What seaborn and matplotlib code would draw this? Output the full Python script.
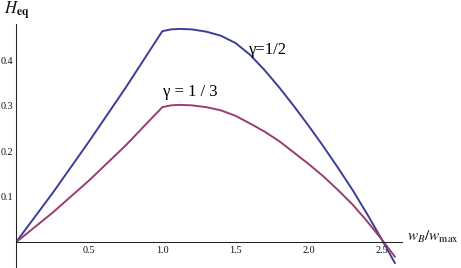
import matplotlib
matplotlib.use("Agg")
import matplotlib.pyplot as plt
from matplotlib.ticker import FixedLocator, MultipleLocator, FixedFormatter
import seaborn as sns
import pandas as pd

# ---- data ----
w_ratio = [0, 0.25, 0.5, 0.75, 1.0, 1.06, 1.12, 1.2, 1.3, 1.4, 1.5, 1.6, 1.7,
           1.8, 1.9, 2.0, 2.1, 2.2, 2.3, 2.4, 2.5, 2.59]
h_gamma_half = [0, 0.108, 0.222, 0.340, 0.464, 0.468, 0.469, 0.468, 0.463, 0.454,
                0.438, 0.412, 0.378, 0.340, 0.299, 0.256, 0.211, 0.164, 0.115,
                0.062, 0.006, -0.046]
h_gamma_third = [0, 0.065, 0.136, 0.213, 0.297, 0.301, 0.302, 0.301, 0.297, 0.290,
                 0.278, 0.261, 0.243, 0.222, 0.197, 0.172, 0.145, 0.115, 0.083,
                 0.046, 0.006, -0.032]
series_names = ["γ=1/2", "γ = 1 / 3"]
x_ticks = [0.5, 1.0, 1.5, 2.0, 2.5]
x_tick_labels = ["0.5", "1.0", "1.5", "2.0", "2.5"]
y_ticks = [0.1, 0.2, 0.3, 0.4]
y_tick_labels = ["0.1", "0.2", "0.3", "0.4"]

colors = ["#3D3D99", "#993D71"]

df = pd.concat([
    pd.DataFrame({"x": w_ratio, "H": h_gamma_half, "gamma": series_names[0]}),
    pd.DataFrame({"x": w_ratio, "H": h_gamma_third, "gamma": series_names[1]}),
], ignore_index=True)

sns.set_style("white")
plt.rcParams["font.family"] = ["Liberation Serif", "DejaVu Serif"]
plt.rcParams["mathtext.fontset"] = "stix"

W, H = 461, 268
fig = plt.figure(figsize=(W / 100, H / 100), dpi=100)
ax_left, ax_right, ax_top = 16, 401.7, 23.9
ax = fig.add_axes([ax_left / W, 0, (ax_right - ax_left) / W, (H - ax_top) / H])

sns.lineplot(data=df, x="x", y="H", hue="gamma", palette=colors, sort=False,
             estimator=None, legend=False, lw=1.4, ax=ax)

ax.set_xlim(0, 2.636)
ax.set_ylim(-0.0566, 0.48)
ax.set_xlabel("")
ax.set_ylabel("")

for s in ["top", "right"]:
    ax.spines[s].set_visible(False)
ax.spines["bottom"].set_position(("data", 0))
ax.spines["left"].set_position(("data", 0))
for s in ["bottom", "left"]:
    ax.spines[s].set_linewidth(0.75)
    ax.spines[s].set_color("#222222")

ax.xaxis.set_major_locator(FixedLocator(x_ticks))
ax.xaxis.set_major_formatter(FixedFormatter(x_tick_labels))
ax.xaxis.set_minor_locator(MultipleLocator(0.1))
ax.yaxis.set_major_locator(FixedLocator(y_ticks))
ax.yaxis.set_major_formatter(FixedFormatter(y_tick_labels))
ax.yaxis.set_minor_locator(MultipleLocator(0.02))

ax.tick_params(axis="both", which="major", direction="in", length=3.2, width=0.7,
               color="#222222", labelsize=7.3, labelcolor="#111111")
ax.tick_params(axis="both", which="minor", direction="in", length=1.7, width=0.6,
               color="#222222")
ax.tick_params(axis="x", which="major", pad=2.5)
ax.tick_params(axis="y", which="major", pad=2.2)

# axis labels, Mathematica style
fig.text(4 / W, 1 - 15 / H, r"$H_{\mathbf{eq}}$", fontsize=12, ha="left",
         va="baseline", color="#111111")
fig.text(407 / W, 1 - 241 / H, r"$w_B/w_{\mathrm{max}}$", fontsize=11, ha="left",
         va="baseline", color="#111111")

# curve labels
fig.text(249 / W, 1 - 53.5 / H, series_names[0], fontsize=12, ha="left",
         va="baseline", color="black")
fig.text(163 / W, 1 - 96 / H, series_names[1], fontsize=12, ha="left",
         va="baseline", color="black")

fig.savefig("out.png", dpi=100)
